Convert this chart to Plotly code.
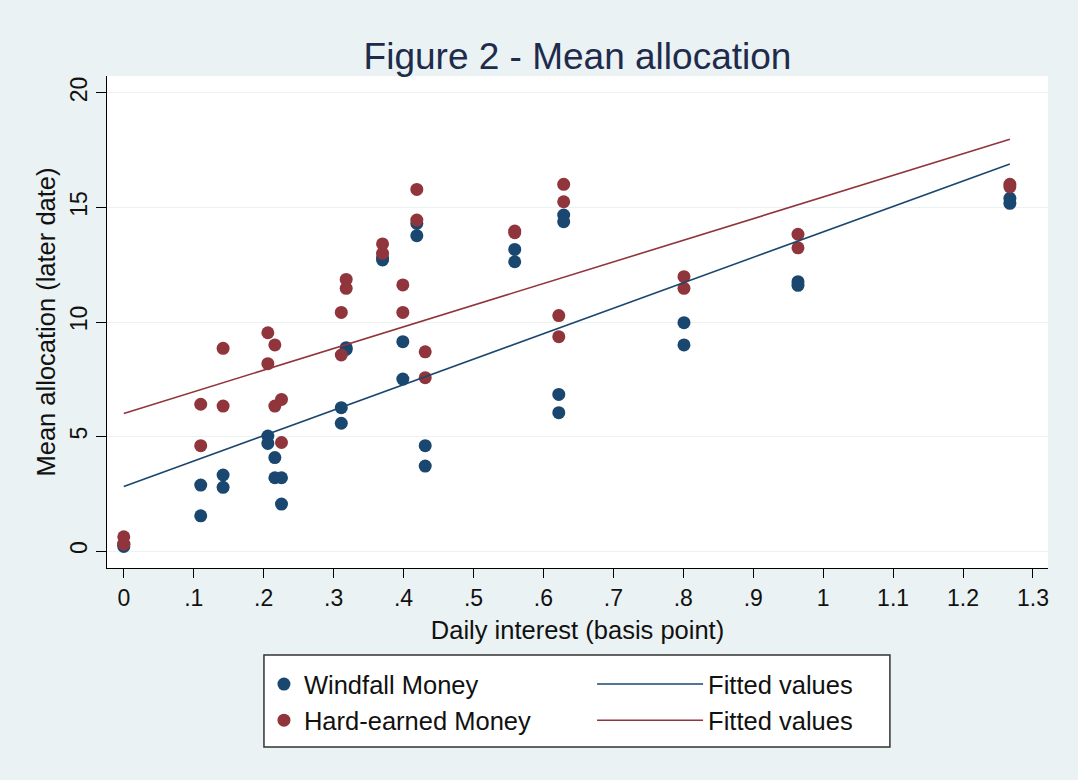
import plotly.graph_objects as go

# Daily interest (basis point) and mean allocation values
windfall_x = [0, 0, 0.110, 0.110, 0.142, 0.142, 0.206, 0.206, 0.216, 0.216, 0.2255, 0.2255,
              0.311, 0.311, 0.318, 0.318, 0.370, 0.370, 0.399, 0.399, 0.419, 0.419, 0.431, 0.431,
              0.559, 0.559, 0.622, 0.622, 0.629, 0.629, 0.801, 0.801, 0.964, 0.964, 1.267, 1.267]
windfall_y = [0.2, 0.3, 2.88, 1.54, 3.32, 2.78, 5.02, 4.70, 4.08, 3.20, 3.20, 2.05,
              6.26, 5.58, 8.88, 8.80, 12.71, 12.80, 9.14, 7.51, 13.77, 14.30, 4.60, 3.71,
              13.17, 12.63, 6.84, 6.04, 14.67, 14.38, 9.97, 9.00, 11.76, 11.60, 15.40, 15.18]

hard_x = [0, 0, 0.110, 0.110, 0.142, 0.142, 0.206, 0.206, 0.216, 0.216, 0.2255, 0.2255,
          0.311, 0.311, 0.318, 0.318, 0.370, 0.370, 0.399, 0.399, 0.419, 0.419, 0.431, 0.431,
          0.559, 0.559, 0.622, 0.622, 0.629, 0.629, 0.801, 0.801, 0.964, 0.964, 1.267, 1.267]
hard_y = [0.62, 0.30, 6.41, 4.60, 8.85, 6.33, 9.53, 8.18, 9.00, 6.33, 6.62, 4.74,
          10.42, 8.56, 11.86, 11.47, 13.41, 13.00, 11.62, 10.42, 15.79, 14.45, 8.70, 7.57,
          13.97, 13.90, 10.28, 9.36, 16.01, 15.25, 11.98, 11.47, 13.83, 13.24, 16.01, 15.90]

# Fitted values (linear fit endpoints)
fit_x = [0, 1.267]
fit_windfall = [2.82, 16.90]
fit_hard = [6.01, 17.98]

x_ticks = [0, 0.1, 0.2, 0.3, 0.4, 0.5, 0.6, 0.7, 0.8, 0.9, 1.0, 1.1, 1.2, 1.3]
x_tick_labels = ["0", ".1", ".2", ".3", ".4", ".5", ".6", ".7", ".8", ".9", "1", "1.1", "1.2", "1.3"]
y_ticks = [0, 5, 10, 15, 20]

NAVY = "#1A476F"
MAROON = "#90353B"
BG = "#EAF2F3"
FONT = "Liberation Sans, Arial, sans-serif"

fig = go.Figure()
fig.add_trace(go.Scatter(x=windfall_x, y=windfall_y, mode="markers", name="Windfall Money",
                         marker=dict(color=NAVY, size=13, line=dict(width=0)), legend="legend"))
fig.add_trace(go.Scatter(x=hard_x, y=hard_y, mode="markers", name="Hard-earned Money",
                         marker=dict(color=MAROON, size=13, line=dict(width=0)), legend="legend"))
fig.add_trace(go.Scatter(x=fit_x, y=fit_windfall, mode="lines", name="Fitted values",
                         line=dict(color=NAVY, width=1.6), legend="legend2"))
fig.add_trace(go.Scatter(x=fit_x, y=fit_hard, mode="lines", name="Fitted values",
                         line=dict(color=MAROON, width=1.6), legend="legend2"))

legend_font = dict(size=25.5, color="#111111", family=FONT)

fig.update_layout(
    width=1078, height=780,
    paper_bgcolor=BG, plot_bgcolor="white",
    margin=dict(l=107, r=30, t=76, b=212),
    font=dict(family=FONT, color="#111111", size=23),
    title=dict(text="Figure 2 - Mean allocation", x=0.5357, xanchor="center", y=0.928, yanchor="middle",
               font=dict(size=37, color="#1E2B4C", family=FONT)),
    showlegend=True,
    legend=dict(orientation="v", x=0.1668, xanchor="left", y=-0.189, yanchor="top",
                bgcolor="rgba(0,0,0,0)", borderwidth=0, font=legend_font, tracegroupgap=0),
    legend2=dict(orientation="v", x=0.5155, xanchor="left", y=-0.189, yanchor="top",
                 bgcolor="rgba(0,0,0,0)", borderwidth=0, font=legend_font, tracegroupgap=0,
                 itemwidth=106),
    shapes=[dict(type="rect", xref="paper", yref="paper", x0=0.1668, x1=0.832, y0=-0.3638, y1=-0.1768,
                 fillcolor="white", line=dict(color="#333333", width=1.5), layer="below")],
    xaxis=dict(range=[-0.024, 1.3215], tickvals=x_ticks, ticktext=x_tick_labels,
               showgrid=False, zeroline=False, showline=True, linecolor="#000000", linewidth=1,
               ticks="outside", ticklen=9, tickcolor="#000000",
               title=dict(text="Daily interest (basis point)", font=dict(size=25.5), standoff=11)),
    yaxis=dict(range=[-0.74, 20.74], tickvals=y_ticks, tickangle=-90,
               showgrid=True, gridcolor=BG, gridwidth=1, zeroline=False,
               showline=True, linecolor="#000000", linewidth=1,
               ticks="outside", ticklen=10, tickcolor="#000000",
               title=dict(text="Mean allocation (later date)", font=dict(size=25.5), standoff=2)),
)

fig.write_html("out.html", config={"displayModeBar": False},
               post_script="document.body.style.margin='0';")
